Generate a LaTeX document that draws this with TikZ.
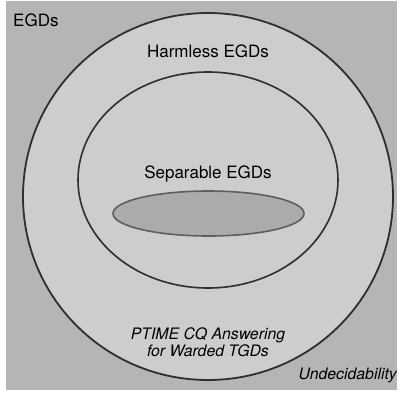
\documentclass[tikz,border=0pt]{standalone}
\usepackage{fontspec}
\setmainfont{TeX Gyre Heros}
\begin{document}
\begin{tikzpicture}[x=1pt,y=-1pt,
  lbl/.style={inner sep=0pt,font=\fontsize{17}{18}\selectfont},
  ilbl/.style={inner sep=0pt,font=\fontsize{15.8}{16.5}\selectfont\itshape,align=center}]
\definecolor{bgc}{HTML}{B5B5B5}
\definecolor{cfill}{HTML}{CDCDCD}
\definecolor{efill}{HTML}{ABABAB}
\definecolor{cline}{HTML}{2E2E2E}
\definecolor{eline}{HTML}{5E5E5E}
\useasboundingbox (0,0) rectangle (404,392);
\fill[white] (0,0) rectangle (404,392);
\fill[bgc] (6,1) rectangle (397,390);
\draw[cline,fill=cfill,line width=1.8pt] (208,196.5) ellipse [x radius=185,y radius=183.5];
\draw[cline,line width=1.6pt] (208,180) ellipse [x radius=130,y radius=108];
\draw[eline,fill=efill,line width=1.6pt] (208.5,213.5) ellipse [x radius=95.5,y radius=22.5];
\node[lbl,anchor=west] (egds) at (13,20) {EGDs};
\node[lbl] (harm) at (208,51) {Harmless EGDs};
\node[lbl] (sep) at (208,174) {Separable EGDs};
\node[ilbl] (ptime) at (208,342) {PTIME CQ Answering\\for Warded TGDs};
\node[ilbl,anchor=east] (undec) at (397,375) {Undecidability};
\end{tikzpicture}
\end{document}
